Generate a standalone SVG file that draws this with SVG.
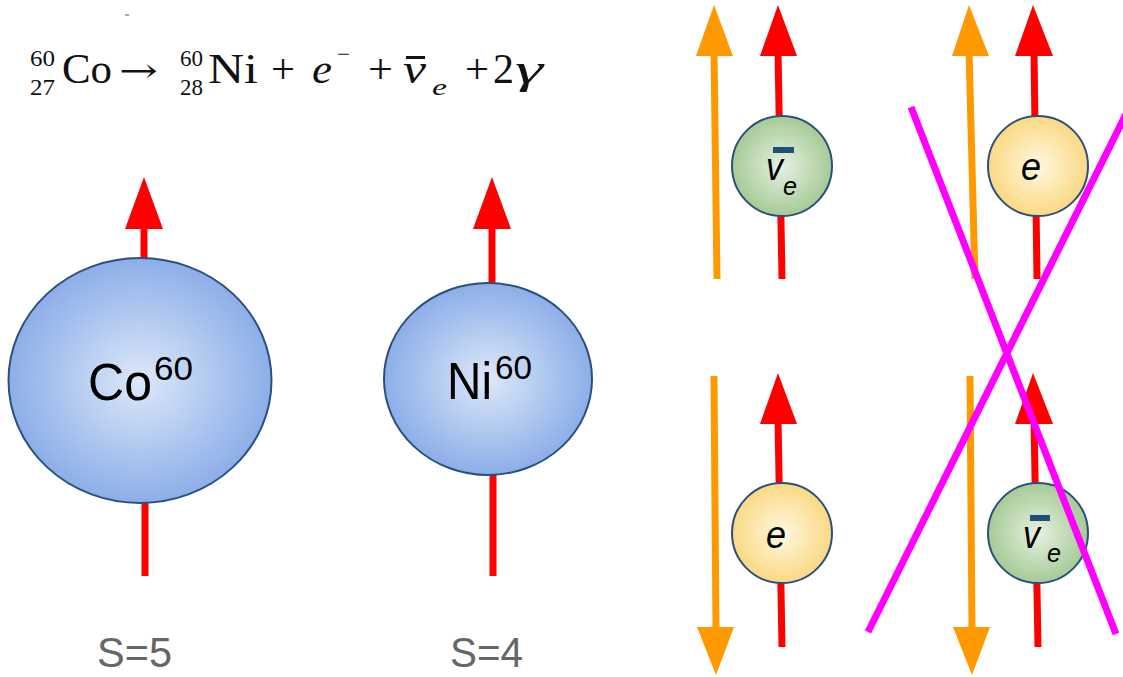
<svg xmlns="http://www.w3.org/2000/svg" width="1123" height="677" viewBox="0 0 1123 677">
<defs>
<radialGradient id="gBlue" cx="50%" cy="50%" r="50%"><stop offset="0" stop-color="#dde8f9"/><stop offset="1" stop-color="#8caee8"/></radialGradient>
<radialGradient id="gGreen" cx="50%" cy="50%" r="50%"><stop offset="0" stop-color="#e6f1e1"/><stop offset="1" stop-color="#a6ca96"/></radialGradient>
<radialGradient id="gYellow" cx="50%" cy="50%" r="50%"><stop offset="0" stop-color="#fff7e0"/><stop offset="1" stop-color="#fad983"/></radialGradient>
<style>
.eq{font-family:"Liberation Serif","DejaVu Serif",serif;fill:#111}
.big{font-size:42px}
.sm{font-size:24px}
.it{font-style:italic}
.lbl{font-family:"Liberation Sans",Arial,sans-serif;fill:#000}
.s{font-family:"Liberation Sans",Arial,sans-serif;font-size:42px;fill:#666}
.pt{font-family:"Liberation Sans",Arial,sans-serif;font-style:italic;fill:#000}
.node{stroke:#2b4f7e;stroke-width:2}
.red{stroke:#ff0000;stroke-width:7;fill:none}
.org{stroke:#ff9900;stroke-width:7;fill:none}
.rh{fill:#ff0000}
.oh{fill:#ff9900}
.bar{fill:#1f4e79}
.x{stroke:#ff00ff;stroke-width:7;fill:none}
</style>
</defs>
<rect width="1123" height="677" fill="#fff"/>
<rect x="125" y="14" width="4" height="2" fill="#aaa"/>

<g id="equation" class="eq">
<text class="sm" x="30" y="66" textLength="25" lengthAdjust="spacingAndGlyphs">60</text>
<text class="sm" x="30" y="95" textLength="25" lengthAdjust="spacingAndGlyphs">27</text>
<text class="big" x="62" y="83" textLength="50" lengthAdjust="spacingAndGlyphs">Co</text>
<text x="119" y="82" font-family="'DejaVu Serif',serif" font-size="34" textLength="39" lengthAdjust="spacingAndGlyphs">→</text>
<text class="sm" x="180" y="66" textLength="23" lengthAdjust="spacingAndGlyphs">60</text>
<text class="sm" x="180" y="95" textLength="23" lengthAdjust="spacingAndGlyphs">28</text>
<text class="big" x="208" y="83" textLength="50" lengthAdjust="spacingAndGlyphs">Ni</text>
<text class="big" x="271" y="83" textLength="24" lengthAdjust="spacingAndGlyphs">+</text>
<text class="big it" x="312" y="83" textLength="20" lengthAdjust="spacingAndGlyphs">e</text>
<text class="sm" x="337" y="62" textLength="13" lengthAdjust="spacingAndGlyphs">−</text>
<text class="big" x="368" y="83" textLength="25" lengthAdjust="spacingAndGlyphs">+</text>
<rect x="406" y="56" width="19" height="3" fill="#111"/>
<text class="big it" x="403" y="83" textLength="23" lengthAdjust="spacingAndGlyphs">ν</text>
<text class="sm it" x="432" y="95" textLength="15" lengthAdjust="spacingAndGlyphs">e</text>
<text class="big" x="465" y="83" textLength="24" lengthAdjust="spacingAndGlyphs">+</text>
<text class="big" x="493" y="83" textLength="21" lengthAdjust="spacingAndGlyphs">2</text>
<text class="big it" x="515" y="83" textLength="28" lengthAdjust="spacingAndGlyphs">γ</text>
</g>

<g id="co60">
<line class="red" x1="144" y1="226" x2="144" y2="262"/>
<polygon class="rh" points="144,177 125,229 163,229"/>
<line class="red" x1="145" y1="500" x2="145" y2="576"/>
<ellipse class="node" cx="140" cy="380.5" rx="131.5" ry="122.5" fill="url(#gBlue)"/>
<text class="lbl" x="88" y="400" font-size="52" textLength="64" lengthAdjust="spacingAndGlyphs">Co</text>
<text class="lbl" x="154" y="380" font-size="34" textLength="39" lengthAdjust="spacingAndGlyphs">60</text>
</g>

<g id="ni60">
<line class="red" x1="492" y1="226" x2="492" y2="288"/>
<polygon class="rh" points="492,177 473,229 511,229"/>
<line class="red" x1="493" y1="472" x2="493" y2="576"/>
<ellipse class="node" cx="488" cy="379" rx="104" ry="96" fill="url(#gBlue)"/>
<text class="lbl" x="447" y="399" font-size="52" textLength="45" lengthAdjust="spacingAndGlyphs">Ni</text>
<text class="lbl" x="495" y="379" font-size="34" textLength="37" lengthAdjust="spacingAndGlyphs">60</text>
</g>

<g id="spin-labels">
<text class="s" x="97" y="667" textLength="75" lengthAdjust="spacingAndGlyphs">S=5</text>
<text class="s" x="450" y="667" textLength="73" lengthAdjust="spacingAndGlyphs">S=4</text>
</g>

<g id="top-left">
<line class="org" x1="717" y1="279" x2="714" y2="50"/>
<polygon class="oh" points="714,5 696,56 733,56"/>
<line class="red" x1="782" y1="279" x2="778" y2="50"/>
<polygon class="rh" points="778,5 760,56 797,56"/>
<circle class="node" cx="782" cy="166" r="50" fill="url(#gGreen)"/>
<rect class="bar" x="773" y="147" width="21" height="6"/>
<text class="pt" x="766" y="180" font-size="38" textLength="17" lengthAdjust="spacingAndGlyphs">v</text>
<text class="pt" x="783" y="195" font-size="26" textLength="14" lengthAdjust="spacingAndGlyphs">e</text>
</g>

<g id="top-right">
<line class="org" x1="975" y1="279" x2="969" y2="50"/>
<polygon class="oh" points="969,5 952,56 989,56"/>
<line class="red" x1="1037" y1="279" x2="1034" y2="50"/>
<polygon class="rh" points="1033,5 1015,56 1053,56"/>
<circle class="node" cx="1038" cy="166" r="50" fill="url(#gYellow)"/>
<text class="pt" x="1021" y="180" font-size="38" textLength="20" lengthAdjust="spacingAndGlyphs">e</text>
</g>

<g id="bottom-left">
<line class="org" x1="714" y1="376" x2="716" y2="632"/>
<polygon class="oh" points="716,675 697,627 734,627"/>
<line class="red" x1="782" y1="647" x2="778" y2="418"/>
<polygon class="rh" points="778,373 760,424 797,424"/>
<circle class="node" cx="782" cy="533" r="50" fill="url(#gYellow)"/>
<text class="pt" x="766" y="548" font-size="38" textLength="20" lengthAdjust="spacingAndGlyphs">e</text>
</g>

<g id="bottom-right">
<line class="org" x1="970" y1="376" x2="972" y2="632"/>
<polygon class="oh" points="972,675 953,627 990,627"/>
<line class="red" x1="1038" y1="647" x2="1034" y2="418"/>
<polygon class="rh" points="1033,373 1015,424 1053,424"/>
<circle class="node" cx="1038" cy="533" r="50" fill="url(#gGreen)"/>
<rect class="bar" x="1030" y="515" width="20" height="6"/>
<text class="pt" x="1023" y="548" font-size="38" textLength="17" lengthAdjust="spacingAndGlyphs">v</text>
<text class="pt" x="1047" y="562" font-size="26" textLength="14" lengthAdjust="spacingAndGlyphs">e</text>
</g>

<g id="connectors">
<line class="x" x1="911" y1="107" x2="1116" y2="634"/>
<line class="x" x1="1133" y1="100" x2="868" y2="632"/>
</g>
</svg>
